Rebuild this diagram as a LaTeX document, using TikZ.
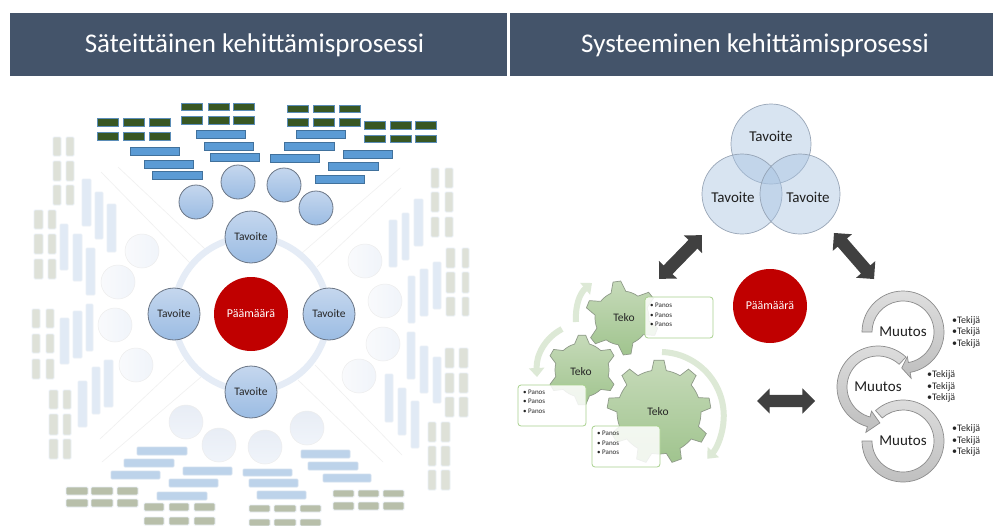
\documentclass[tikz,border=0pt]{standalone}
\usepackage{fontspec}
\setmainfont{Carlito}
\usetikzlibrary{arrows.meta,shapes.arrows}
\definecolor{hdr}{HTML}{44546A}
\definecolor{barblue}{HTML}{5B9BD5}
\definecolor{barbluedk}{HTML}{41719C}
\definecolor{dkgreen}{HTML}{385723}
\definecolor{dkgreenE}{HTML}{5B8DB8}
\definecolor{fadebar}{HTML}{E1EAF5}
\definecolor{fadegrey}{HTML}{DEE1D8}
\definecolor{fadeedge}{HTML}{EAF0F7}
\definecolor{botbar}{HTML}{BDD3EA}
\definecolor{botedge}{HTML}{D3E0EF}
\definecolor{botgrey}{HTML}{B8BFAA}
\definecolor{ringcol}{HTML}{E5ECF6}
\definecolor{crimson}{HTML}{C00000}
\definecolor{arrowdk}{HTML}{404040}
\definecolor{pale}{HTML}{DDE9D6}
\definecolor{gearedge}{HTML}{8E9A88}
\definecolor{ballT}{HTML}{C5D7EE}
\definecolor{ballB}{HTML}{9BBCE3}
\definecolor{ballE}{HTML}{6B7686}
\definecolor{fadeA}{HTML}{F9FAFC}
\definecolor{fadeB}{HTML}{F0F4FA}
\definecolor{fadeC}{HTML}{E8EDF5}
\definecolor{vennf}{HTML}{A9C4E2}
\definecolor{vennE}{HTML}{8F9DAF}
\definecolor{gearT}{HTML}{C6DAB9}
\definecolor{gearB}{HTML}{A0C48E}
\definecolor{boxE}{HTML}{A9D18E}
\definecolor{ringT}{HTML}{DEDEDE}
\definecolor{ringB}{HTML}{BEBEBE}
\definecolor{ringE}{HTML}{8C8C8C}
\newcommand\itm[1]{\makebox[5pt][l]{•}#1}
\newcommand\gearshape[8]{%
 \begin{scope}[shift={(#1,#2)}]
 \path[gearstyle] (#4-#7:#6)
  \foreach \i [evaluate=\i as \a using {#4+\i*360/#3}] in {1,...,#3} {
   -- (\a-360/#3-#7:#6) -- (\a-360/#3-#8:#5) -- (\a-360/#3+#8:#5) -- (\a-360/#3+#7:#6)
   arc[start angle=\a-360/#3+#7, end angle=\a-#7, radius=#6]
  } -- cycle;
 \end{scope}}
\newcommand\ringarrow[6]{%
 \begin{scope}[shift={(#1,#2)}]
 \path[ringstyle] (#3:41) arc[start angle=#3, end angle=#4, radius=41]
  -- (#4:#5+11) -- (#6:36) -- (#4:#5-11) -- (#4:31)
  arc[start angle=#4, end angle=#3, radius=31] -- cycle;
 \end{scope}}
\tikzset{
 title/.style={text=white,font=\fontsize{27}{31}\selectfont,inner sep=0},
 headbar/.style={fill=hdr,draw=none},
 greenbox/.style={fill=dkgreen,draw=dkgreenE,line width=1},
 bluebar/.style={fill=barblue,draw=barbluedk,line width=0.8},
 fadev/.style={fill=fadebar,draw=fadeedge,line width=0.8,rounded corners=1},
 fadeg/.style={fill=fadegrey,draw=fadeedge,line width=0.8,rounded corners=1},
 botb/.style={fill=botbar,draw=botedge,line width=0.8,rounded corners=1},
 botg/.style={fill=botgrey,draw=fadeedge,line width=0.8,rounded corners=1},
 spoke/.style={draw=black!6,line width=0.6},
 blueball/.style={circle,minimum size=34,inner sep=0,top color=ballT,bottom color=ballB,draw=ballE,line width=0.8},
 tavball/.style={blueball,minimum size=52,text=black!85,font=\fontsize{11.5}{13}\selectfont},
 fadeball/.style={circle,minimum size=34,inner sep=0,left color=fadeA,right color=fadeB,draw=black!7,line width=0.5},
 fadeballb/.style={circle,minimum size=34,inner sep=0,top color=fadeC,bottom color=fadeB,draw=black!7,line width=0.5},
 redball/.style={circle,minimum size=74,inner sep=0,fill=crimson,text=white,font=\fontsize{12}{14}\selectfont},
 venn/.style={circle,minimum size=80,inner sep=0,fill=vennf,fill opacity=0.45,draw=vennE,draw opacity=0.9,line width=0.7},
 vennlabel/.style={inner sep=0,font=\fontsize{15}{17}\selectfont,text=black!88},
 blockarrow/.style={double arrow,double arrow head extend=6.5pt,inner sep=6pt,minimum height=61pt,fill=arrowdk,draw=none},
 gearstyle/.style={top color=gearT,bottom color=gearB,draw=gearedge,line width=0.7},
 gearlabel/.style={inner sep=0,font=\fontsize{11.5}{13}\selectfont,text=black!85},
 panosbox/.style={draw=boxE,line width=0.8,fill=white,fill opacity=0.85,rounded corners=3},
 panos/.style={inner sep=0,anchor=west,align=left,font=\fontsize{7}{9.3}\selectfont,text=black!85},
 tekija/.style={inner sep=0,anchor=west,align=left,font=\fontsize{10}{11.4}\selectfont,text=black!85},
 palearrow/.style={draw=pale,line width=6,-{Triangle[length=9,width=15]}},
 ringstyle/.style={top color=ringT,bottom color=ringB,draw=ringE,line width=0.7},
 muutos/.style={inner sep=0,font=\fontsize{15}{17}\selectfont,text=black!88},
}
\begin{document}
\begin{tikzpicture}[x=1pt,y=1pt,yscale=-1]
\useasboundingbox[fill=white] (0,0) rectangle (993,525);
% headers
\fill[headbar] (10,13) rectangle (507,76);
\fill[headbar] (510,13) rectangle (993,76);
\node[title] (titleL) at (254.5,45) {Säteittäinen kehittämisprosessi};
\node[title] (titleR) at (755,45) {Systeeminen kehittämisprosessi};
% spokes
\foreach \a/\b/\c/\d in {101/172/190/263,118/167/205/249,400/168/302/253,401/188/317/267,100/439/184/360,102/462/201/377,402/455/315/365,383/462/298/380}
  \draw[spoke] (\a,\b) -- (\c,\d);
% ring
\draw[draw=ringcol,line width=6.5] (251,314) circle[radius=77];
% dark green
\foreach \xa/\xb in {97/118,123/144,149/170} \foreach \ya/\yb in {118/126,132/140} \draw[greenbox] (\xa,\ya) rectangle (\xb,\yb);
\foreach \xa/\xb in {181/202,208/229,233/254} \foreach \ya/\yb in {103/110,116/124} \draw[greenbox] (\xa,\ya) rectangle (\xb,\yb);
\foreach \xa/\xb in {287/308,313/334,339/360} \foreach \ya/\yb in {105/112,118/126} \draw[greenbox] (\xa,\ya) rectangle (\xb,\yb);
\foreach \xa/\xb in {364/385,390/411,415/436} \foreach \ya/\yb in {121/129,135/142} \draw[greenbox] (\xa,\ya) rectangle (\xb,\yb);
% blue bars
\foreach \a/\b/\c/\d in {130/147/179/155,144/160/193/168,152/171/202/179,196/130/245/138,204/142/253/150,210/153/259/161,296/130/345/138,284/142/334/150,270/154/319/162,343/150/392/158,328/162/378/170,315/175/364/183}
  \draw[bluebar] (\a,\b) rectangle (\c,\d);
% faded vertical bars
\foreach \a/\b/\c/\d in {82/179/91/226,95/192/103/239,107/204/116/252,60/224/68/270,73/234/82/281,86/248/95/295,60/318/69/364,73/311/82/358,86/304/93/351,78/381/87/427,92/367/100/414,104/360/113/407,389/220/397/267,402/213/409/260,414/199/423/246,408/276/415/323,420/269/428/316,433/262/441/309,407/332/415/379,420/346/428/393,433/357/441/403,385/374/393/422,398/388/406/435,411/401/419/448}
  \draw[fadev] (\a,\b) rectangle (\c,\d);
% faded grey
\foreach \xa/\xb in {53/61,66/74} \foreach \ya/\yb in {137/156,161/181,185/205} \draw[fadeg] (\xa,\ya) rectangle (\xb,\yb);
\foreach \xa/\xb in {34/43,48/56} \foreach \ya/\yb in {210/229,234/254,259/279} \draw[fadeg] (\xa,\ya) rectangle (\xb,\yb);
\foreach \xa/\xb in {32/40,46/54} \foreach \ya/\yb in {309/328,334/353,359/379} \draw[fadeg] (\xa,\ya) rectangle (\xb,\yb);
\foreach \xa/\xb in {49/58,63/71} \foreach \ya/\yb in {390/409,414/435,439/459} \draw[fadeg] (\xa,\ya) rectangle (\xb,\yb);
\foreach \xa/\xb in {431/439,445/453} \foreach \ya/\yb in {168/188,192/212,217/237} \draw[fadeg] (\xa,\ya) rectangle (\xb,\yb);
\foreach \xa/\xb in {446/455,462/469} \foreach \ya/\yb in {248/268,272/293,297/316} \draw[fadeg] (\xa,\ya) rectangle (\xb,\yb);
\foreach \xa/\xb in {445/454,459/468} \foreach \ya/\yb in {348/368,373/393,397/417} \draw[fadeg] (\xa,\ya) rectangle (\xb,\yb);
\foreach \xa/\xb in {428/436,441/450} \foreach \ya/\yb in {422/442,446/466,470/490} \draw[fadeg] (\xa,\ya) rectangle (\xb,\yb);
% bottom bars
\foreach \a/\b/\c/\d in {137/447/187/455,124/459/174/467,111/471/160/479,183/467/232/475,169/479/218/487,157/492/207/500,243/469/292/476,249/479/298/487,257/491/306/499,301/450/350/458,308/462/358/470,323/474/371/482}
  \draw[botb] (\a,\b) rectangle (\c,\d);
% bottom olive
\foreach \xa/\xb in {66/88,91/113,117/138} \foreach \ya/\yb in {487/495,499/507} \draw[botg] (\xa,\ya) rectangle (\xb,\yb);
\foreach \xa/\xb in {144/164,169/189,194/215} \foreach \ya/\yb in {503/511,517/525} \draw[botg] (\xa,\ya) rectangle (\xb,\yb);
\foreach \xa/\xb in {249/270,274/296,300/321} \foreach \ya/\yb in {505/512,519/526} \draw[botg] (\xa,\ya) rectangle (\xb,\yb);
\foreach \xa/\xb in {333/354,358/379,383/404} \foreach \ya/\yb in {490/497,502/510} \draw[botg] (\xa,\ya) rectangle (\xb,\yb);
% small circles
\node[blueball] (st1) at (196,202) {};
\node[blueball] (st2) at (238,182) {};
\node[blueball] (st3) at (284,185) {};
\node[blueball] (st4) at (316,208) {};
\node[fadeball] (sl1) at (142,251) {};
\node[fadeball] (sl2) at (118,282) {};
\node[fadeball] (sl3) at (115,325) {};
\node[fadeball] (sl4) at (136,365) {};
\node[fadeball] (sr1) at (365,261) {};
\node[fadeball] (sr2) at (385,301) {};
\node[fadeball] (sr3) at (383,344) {};
\node[fadeball] (sr4) at (359,376) {};
\node[fadeballb] (sb1) at (186,422) {};
\node[fadeballb] (sb2) at (219,445) {};
\node[fadeballb] (sb3) at (265,447) {};
\node[fadeballb] (sb4) at (307,428) {};
% main left
\node[redball] (goalL) at (251,314) {Päämäärä};
\node[tavball] (tavT) at (251,237) {Tavoite};
\node[tavball] (tavL) at (174,314) {Tavoite};
\node[tavball] (tavR) at (329,314) {Tavoite};
\node[tavball] (tavB) at (251,392) {Tavoite};
% venn
\node[venn] (v1) at (771,144) {};
\node[venn] (v2) at (742,194) {};
\node[venn] (v3) at (800,194) {};
\node[vennlabel] (v1t) at (771,136) {Tavoite};
\node[vennlabel] (v2t) at (733,197) {Tavoite};
\node[vennlabel] (v3t) at (808,197) {Tavoite};
% block arrows
\node[blockarrow,rotate=45.7] (arrL) at (680.5,257) {};
\node[blockarrow,rotate=-49] (arrR) at (854,256) {};
\node[blockarrow,minimum height=58pt] (arrH) at (786,401) {};
% goal right
\node[redball] (goalR) at (770,306) {Päämäärä};
% pale arrows
\draw[palearrow] (576,322) .. controls (575,305) and (580,293) .. (592,283);
\draw[palearrow] (562,329) .. controls (545,338) and (536,355) .. (537,377);
\draw[palearrow] (662,352) arc[start angle=272, end angle=402, radius=64];
% gears
\gearshape{622}{318}{6}{-38}{37}{27}{16}{6}
\gearshape{582}{370}{6}{30}{35}{27}{16}{6}
\gearshape{659}{412}{9}{270}{52}{42}{10}{5.5}
\node[gearlabel] (g1t) at (624,318) {Teko};
\node[gearlabel] (g2t) at (581,372) {Teko};
\node[gearlabel] (g3t) at (658,412) {Teko};
% panos boxes
\draw[panosbox] (645,297) rectangle (713,338);
\draw[panosbox] (518,385) rectangle (586,426);
\draw[panosbox] (592,426) rectangle (660,467);
\node[panos] (p1) at (650,315) {\itm{Panos}\\\itm{Panos}\\\itm{Panos}};
\node[panos] (p2) at (523,401.5) {\itm{Panos}\\\itm{Panos}\\\itm{Panos}};
\node[panos] (p3) at (597,443) {\itm{Panos}\\\itm{Panos}\\\itm{Panos}};
% cycle arrows
\begin{scope}[shift={(903,441)}]
\path[ringstyle] (228:41) arc[start angle=228, end angle=540, radius=41] -- (540:31) arc[start angle=540, end angle=228, radius=31] -- cycle;
\end{scope}
\ringarrow{878}{387}{313}{105}{36}{87}
\ringarrow{903}{332}{180}{440}{36}{452}
\node[muutos] (m1) at (903,332) {Muutos};
\node[muutos] (m2) at (878,387) {Muutos};
\node[muutos] (m3) at (903,441) {Muutos};
\node[tekija] (t1) at (952,332) {\itm{Tekijä}\\\itm{Tekijä}\\\itm{Tekijä}};
\node[tekija] (t2) at (927,386.5) {\itm{Tekijä}\\\itm{Tekijä}\\\itm{Tekijä}};
\node[tekija] (t3) at (952,440.5) {\itm{Tekijä}\\\itm{Tekijä}\\\itm{Tekijä}};
\end{tikzpicture}
\end{document}
